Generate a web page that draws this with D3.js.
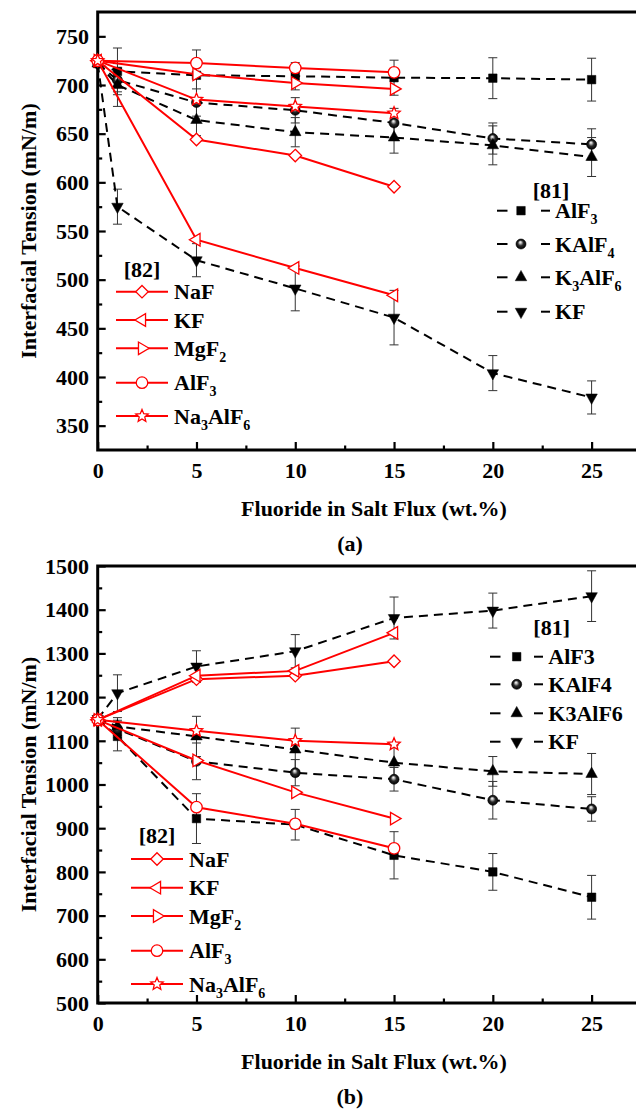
<!DOCTYPE html>
<html>
<head>
<meta charset="utf-8">
<script src="https://cdn.jsdelivr.net/npm/d3@7"></script>
<style>
  html, body { margin: 0; padding: 0; background: #fff; }
  svg { display: block; }
</style>
</head>
<body>
<svg id="chart" width="636" height="1109"></svg>
<script>
// ---- fluoride content in the salt flux (wt.%) ----
const xRef81 = [0, 1, 5, 10, 15, 20, 25];
const xRef82 = [0, 5, 10, 15];

// ---- (a) interfacial tension, mN/m ----
const aRef81AlF3    = [722, 714, 710, 709, 707.5, 707, 705.5];
const aRef81KAlF4   = [722, 705, 682, 674, 661, 645, 639];
const aRef81K3AlF6  = [722, 700, 664, 651.5, 646, 638, 626];
const aRef81KF      = [722, 575, 520, 491, 461, 404, 379];
const aErr81AlF3    = [0, 24, 26, 14, 18, 21, 22];
const aErr81KAlF4   = [0, 12, 14, 13, 15, 16, 16];
const aErr81K3AlF6  = [0, 22, 16, 15, 16, 20, 20];
const aErr81KF      = [0, 18, 17, 23, 28, 18, 17];

const aRef82NaF     = [725, 644, 627.5, 595.5];
const aRef82KF      = [725, 541, 512, 484];
const aRef82MgF2    = [725, 711, 702, 696];
const aRef82AlF3    = [725, 722.5, 717.5, 713];
const aRef82Na3AlF6 = [725, 685, 678, 671];

// ---- (b) interfacial tension, mN/m ----
const bRef81AlF3    = [1150, 1110, 922, 908, 838, 800, 742];
const bRef81KAlF4   = [1150, 1127, 1053, 1027, 1012, 964, 944];
const bRef81K3AlF6  = [1150, 1133, 1110, 1080, 1050, 1030, 1024];
const bRef81KF      = [1150, 1209, 1270, 1305, 1381, 1398, 1431];
const bErr81AlF3    = [0, 33, 57, 35, 54, 42, 50];
const bErr81KAlF4   = [0, 20, 42, 30, 27, 43, 28];
const bErr81K3AlF6  = [0, 20, 46, 49, 40, 34, 47];
const bErr81KF      = [0, 42, 36, 38, 48, 40, 58];

const bRef82NaF     = [1148, 1241, 1249, 1282];
const bRef82KF      = [1148, 1249, 1260, 1347];
const bRef82MgF2    = [1148, 1055, 982, 922];
const bRef82AlF3    = [1148, 948, 910, 854];
const bRef82Na3AlF6 = [1148, 1123, 1100, 1092];

// ---- axis ticks ----
const xMajorTicks = [0, 5, 10, 15, 20, 25];
const xMinorTicks = [2.5, 7.5, 12.5, 17.5, 22.5, 27.5];
const aYMajorTicks = [350, 400, 450, 500, 550, 600, 650, 700, 750];
const aYMinorTicks = [375, 425, 475, 525, 575, 625, 675, 725];
const bYMajorTicks = [500, 600, 700, 800, 900, 1000, 1100, 1200, 1300, 1400, 1500];
const bYMinorTicks = [550, 650, 750, 850, 950, 1050, 1150, 1250, 1350, 1450];

// ---- text ----
const yTitle = "Interfacial Tension (mN/m)";
const xTitle = "Fluoride in Salt Flux (wt.%)";
const ref81Label = "[81]";
const ref82Label = "[82]";
const names82 = ["NaF", "KF", "MgF_2", "AlF_3", "Na_3AlF_6"];
const names81Sub = ["AlF_3", "KAlF_4", "K_3AlF_6", "KF"];
const names81Plain = ["AlF3", "KAlF4", "K3AlF6", "KF"];

const FONT = "'Liberation Serif', 'Times New Roman', serif";
const RED = "#ff0000";

// ---- marker shapes ----
const shapes = {
  square: s => `M${-s/2},${-s/2}h${s}v${s}h${-s}Z`,
  triUp: s => { const h = s * 0.9; return `M0,${-h*2/3}L${s/2},${h/3}L${-s/2},${h/3}Z`; },
  triDown: s => { const h = s * 0.9; return `M0,${h*2/3}L${s/2},${-h/3}L${-s/2},${-h/3}Z`; },
  triLeft: s => { const h = s * 0.85; return `M${-h*2/3},0L${h/3},${-s/2}L${h/3},${s/2}Z`; },
  triRight: s => { const h = s * 0.85; return `M${h*2/3},0L${-h/3},${-s/2}L${-h/3},${s/2}Z`; },
  diamond: s => `M0,${-s/2}L${s/2},0L0,${s/2}L${-s/2},0Z`,
  circle: s => { const r = s / 2; return `M${r},0A${r},${r} 0 1,1 ${-r},0A${r},${r} 0 1,1 ${r},0Z`; },
  star: s => {
    const R = s / 2, r = R * 0.45; let p = "";
    for (let i = 0; i < 10; i++) {
      const rad = i % 2 ? r : R, ang = -Math.PI / 2 + i * Math.PI / 5;
      p += (i ? "L" : "M") + (rad * Math.cos(ang)).toFixed(2) + "," + (rad * Math.sin(ang)).toFixed(2);
    }
    return p + "Z";
  }
};

const svg = d3.select("#chart");
svg.append("rect").attr("width", 636).attr("height", 1109).attr("fill", "#fff");

// shaded ball marker
const defs = svg.append("defs");
const grad = defs.append("radialGradient").attr("id", "ball")
  .attr("cx", "50%").attr("cy", "50%").attr("r", "50%").attr("fx", "42%").attr("fy", "30%");
grad.append("stop").attr("offset", "0%").attr("stop-color", "#ffffff");
grad.append("stop").attr("offset", "22%").attr("stop-color", "#bdbdbd");
grad.append("stop").attr("offset", "55%").attr("stop-color", "#2a2a2a");
grad.append("stop").attr("offset", "100%").attr("stop-color", "#000");

function drawMarker(g, kind, cx, cy, style) {
  if (kind === "ball") {
    g.append("circle").attr("cx", cx).attr("cy", cy).attr("r", 5)
      .attr("fill", "url(#ball)").attr("stroke", "#000").attr("stroke-width", 0.6);
    return;
  }
  g.append("path").attr("d", shapes[kind](style.size))
    .attr("transform", `translate(${cx},${cy})`)
    .attr("fill", style.fill).attr("stroke", style.stroke)
    .attr("stroke-width", style.sw);
}

// text with chemical subscripts written as "_n"
function richText(sel, label, subSize) {
  const parts = label.split(/_(\d)/);
  let sub = false;
  parts.forEach((p, i) => {
    if (!p) { return; }
    const isSub = i % 2 === 1;
    const t = sel.append("tspan").text(p);
    if (isSub) { t.attr("font-size", subSize).attr("dy", 6); sub = true; }
    else if (sub) { t.attr("dy", -6); sub = false; }
  });
}

const blackStyles = {
  square: { size: 8.5, fill: "#000", stroke: "#000", sw: 0.5 },
  triUp: { size: 11.5, fill: "#000", stroke: "#000", sw: 0.5 },
  triDown: { size: 11.5, fill: "#000", stroke: "#000", sw: 0.5 },
  ball: {}
};
const redStyle = size => ({ size, fill: "#fff", stroke: RED, sw: 1.3 });
const redSizes = { diamond: 12.5, triLeft: 12.5, triRight: 12.5, circle: 11.5, star: 13 };

function drawPanel(cfg) {
  const g = svg.append("g");
  const x = d3.scaleLinear().domain([0, 27.5]).range([97.7, 641]);
  const y = d3.scaleLinear().domain(cfg.yDomain).range([cfg.bottom, cfg.top]);

  // axes with inward ticks
  const yAx = g.append("g").attr("transform", `translate(${x(0)},0)`)
    .call(d3.axisLeft(y).tickValues(cfg.yMajor).tickSize(-8).tickPadding(8.7).tickFormat(d3.format("d")));
  const yMin = g.append("g").attr("transform", `translate(${x(0)},0)`)
    .call(d3.axisLeft(y).tickValues(cfg.yMinor).tickSize(-4.5).tickFormat(""));
  const xAx = g.append("g").attr("transform", `translate(0,${cfg.bottom})`)
    .call(d3.axisBottom(x).tickValues(xMajorTicks).tickSize(-8).tickPadding(12).tickFormat(d3.format("d")));
  const xMin = g.append("g").attr("transform", `translate(0,${cfg.bottom})`)
    .call(d3.axisBottom(x).tickValues(xMinorTicks).tickSize(-4.5).tickFormat(""));
  [yAx, yMin, xAx, xMin].forEach(a => {
    a.select(".domain").remove();
    a.selectAll(".tick line").attr("stroke", "#000").attr("stroke-width", 2.2);
    a.selectAll(".tick text").attr("font-family", FONT).attr("font-weight", "bold")
      .attr("font-size", 22).attr("fill", "#000");
  });
  yAx.selectAll(".tick text").attr("dy", "0.33em");

  // frame
  g.append("path")
    .attr("d", `M${x(27.5)},${cfg.top}H${x(0)}V${cfg.bottom}H${x(27.5)}`)
    .attr("fill", "none").attr("stroke", "#000").attr("stroke-width", 3);

  const line = d3.line().x(d => x(d[0])).y(d => y(d[1]));

  // [81] series: error bars, dashed lines, filled markers
  cfg.s81.forEach(s => {
    const pts = xRef81.map((xv, i) => [xv, s.v[i], s.e[i]]);
    pts.forEach(p => {
      if (!p[2]) return;
      const cx = x(p[0]), y1 = y(p[1] + p[2]), y2 = y(p[1] - p[2]);
      g.append("line").attr("x1", cx).attr("x2", cx).attr("y1", y1).attr("y2", y2)
        .attr("stroke", "#333").attr("stroke-width", 1);
      [y1, y2].forEach(yy => g.append("line").attr("x1", cx - 4.5).attr("x2", cx + 4.5)
        .attr("y1", yy).attr("y2", yy).attr("stroke", "#333").attr("stroke-width", 1));
    });
  });
  cfg.s81.forEach(s => {
    const pts = xRef81.map((xv, i) => [xv, s.v[i]]);
    g.append("path").attr("d", line(pts)).attr("fill", "none")
      .attr("stroke", "#000").attr("stroke-width", 2).attr("stroke-dasharray", "9,6");
  });
  cfg.s81.forEach(s => {
    xRef81.forEach((xv, i) => drawMarker(g, s.shape, x(xv), y(s.v[i]), blackStyles[s.shape]));
  });

  // [82] series: solid red lines, open markers
  cfg.s82.forEach(s => {
    const pts = xRef82.map((xv, i) => [xv, s.v[i]]);
    g.append("path").attr("d", line(pts)).attr("fill", "none")
      .attr("stroke", RED).attr("stroke-width", 2);
  });
  cfg.s82.forEach(s => {
    xRef82.forEach((xv, i) => drawMarker(g, s.shape, x(xv), y(s.v[i]), redStyle(redSizes[s.shape])));
  });

  // [82] legend
  const L2 = cfg.leg82;
  g.append("text").attr("x", L2.sym).attr("y", L2.head).attr("dy", "0.35em")
    .attr("text-anchor", "middle").attr("font-family", FONT).attr("font-weight", "bold")
    .attr("font-size", 22).text(ref82Label);
  cfg.s82.forEach((s, i) => {
    const yy = L2.rows[i];
    g.append("line").attr("x1", L2.x1).attr("x2", L2.x2).attr("y1", yy).attr("y2", yy)
      .attr("stroke", RED).attr("stroke-width", 2);
    drawMarker(g, s.shape, L2.sym, yy, redStyle(redSizes[s.shape]));
    const t = g.append("text").attr("x", L2.text).attr("y", yy + 7.5)
      .attr("font-family", FONT).attr("font-weight", "bold").attr("font-size", 22);
    richText(t, names82[i], 14);
  });

  // [81] legend
  const L1 = cfg.leg81;
  g.append("text").attr("x", L1.head[0]).attr("y", L1.head[1]).attr("dy", "0.35em")
    .attr("text-anchor", "middle").attr("font-family", FONT).attr("font-weight", "bold")
    .attr("font-size", 22).text(ref81Label);
  cfg.s81.forEach((s, i) => {
    const yy = L1.rows[i];
    [[L1.x1, L1.x1 + 10.5], [L1.x2 - 9, L1.x2]].forEach(seg =>
      g.append("line").attr("x1", seg[0]).attr("x2", seg[1]).attr("y1", yy).attr("y2", yy)
        .attr("stroke", "#000").attr("stroke-width", 2));
    drawMarker(g, s.shape, L1.sym, yy, blackStyles[s.shape]);
    const t = g.append("text").attr("x", L1.text).attr("y", yy + 7.5)
      .attr("font-family", FONT).attr("font-weight", "bold").attr("font-size", 22);
    richText(t, L1.names[i], 14);
  });

  // titles
  g.append("text").attr("transform", `translate(28.5,${(cfg.top + cfg.bottom) / 2}) rotate(-90)`)
    .attr("text-anchor", "middle").attr("dy", "0.35em")
    .attr("font-family", FONT).attr("font-weight", "bold").attr("font-size", 22).text(yTitle);
  g.append("text").attr("x", 374).attr("y", cfg.bottom + 58.5).attr("dy", "0.35em")
    .attr("text-anchor", "middle")
    .attr("font-family", FONT).attr("font-weight", "bold").attr("font-size", 22).text(xTitle);
  g.append("text").attr("x", 350).attr("y", cfg.bottom + 93).attr("dy", "0.35em")
    .attr("text-anchor", "middle")
    .attr("font-family", FONT).attr("font-weight", "bold").attr("font-size", 22).text(cfg.tag);
}

drawPanel({
  tag: "(a)", top: 12, bottom: 450, yDomain: [325, 775],
  yMajor: aYMajorTicks, yMinor: aYMinorTicks,
  s81: [
    { shape: "square", v: aRef81AlF3, e: aErr81AlF3 },
    { shape: "ball", v: aRef81KAlF4, e: aErr81KAlF4 },
    { shape: "triUp", v: aRef81K3AlF6, e: aErr81K3AlF6 },
    { shape: "triDown", v: aRef81KF, e: aErr81KF }
  ],
  s82: [
    { shape: "diamond", v: aRef82NaF },
    { shape: "triLeft", v: aRef82KF },
    { shape: "triRight", v: aRef82MgF2 },
    { shape: "circle", v: aRef82AlF3 },
    { shape: "star", v: aRef82Na3AlF6 }
  ],
  leg82: { head: 269, x1: 116, x2: 168, sym: 142, text: 174, rows: [291.7, 320, 348.3, 382.7, 416] },
  leg81: { head: [551, 190], x1: 497, x2: 550, sym: 521, text: 555,
           rows: [210.7, 244, 277.3, 311.7], names: names81Sub }
});

drawPanel({
  tag: "(b)", top: 566, bottom: 1003, yDomain: [500, 1500],
  yMajor: bYMajorTicks, yMinor: bYMinorTicks,
  s81: [
    { shape: "square", v: bRef81AlF3, e: bErr81AlF3 },
    { shape: "ball", v: bRef81KAlF4, e: bErr81KAlF4 },
    { shape: "triUp", v: bRef81K3AlF6, e: bErr81K3AlF6 },
    { shape: "triDown", v: bRef81KF, e: bErr81KF }
  ],
  s82: [
    { shape: "diamond", v: bRef82NaF },
    { shape: "triLeft", v: bRef82KF },
    { shape: "triRight", v: bRef82MgF2 },
    { shape: "circle", v: bRef82AlF3 },
    { shape: "star", v: bRef82Na3AlF6 }
  ],
  leg82: { head: 835, x1: 131, x2: 183, sym: 157, text: 189, rows: [859, 887.7, 916, 950.7, 984] },
  leg81: { head: [551.7, 627.3], x1: 490, x2: 543, sym: 516.7, text: 548.3,
           rows: [656.7, 684.3, 713.3, 741.7], names: names81Plain }
});
</script>
</body>
</html>
